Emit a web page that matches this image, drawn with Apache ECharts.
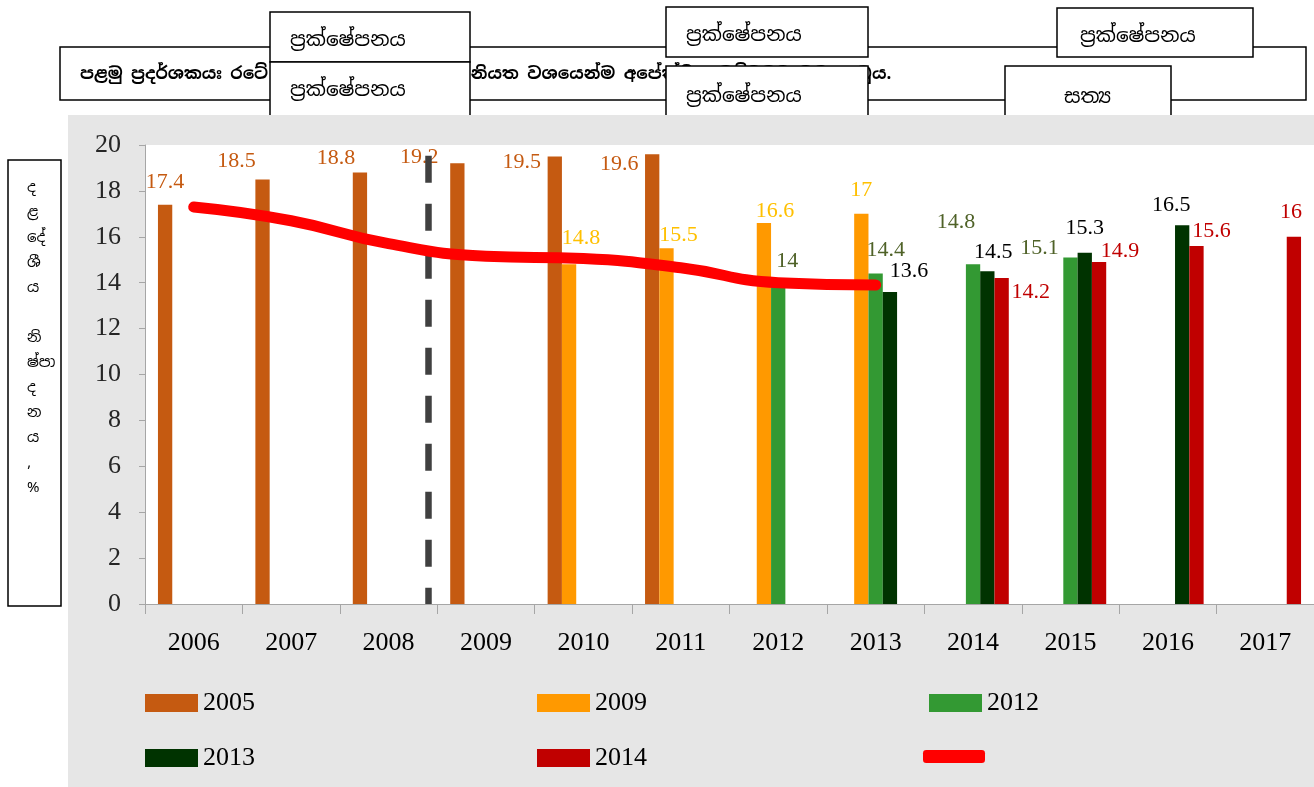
<!DOCTYPE html>
<html>
<head>
<meta charset="utf-8">
<script src="https://cdn.jsdelivr.net/npm/echarts@6/dist/echarts.min.js"></script>
<style>
  html, body { margin: 0; padding: 0; background: #fff; }
  #main { width: 1314px; height: 787px; }
</style>
</head>
<body>
<div id="main"></div>
<script>
var chart = echarts.init(document.getElementById('main'));

// categories and series values
const years = ['2006', '2007', '2008', '2009', '2010', '2011', '2012', '2013', '2014', '2015', '2016', '2017'];
const v2005 = [17.4, 18.5, 18.8, 19.2, 19.5, 19.6, null, null, null, null, null, null];
const v2009 = [null, null, null, null, 14.8, 15.5, 16.6, 17, null, null, null, null];
const v2012 = [null, null, null, null, null, null, 14, 14.4, 14.8, 15.1, null, null];
const v2013 = [null, null, null, null, null, null, null, 13.6, 14.5, 15.3, 16.5, null];
const v2014 = [null, null, null, null, null, null, null, null, 14.2, 14.9, 15.6, 16];
const trend = [17.3, 16.7, 15.7, 15.15, 15.05, 14.65, 14.0, 13.9, null, null, null, null];
const trendName = 'ප්‍රවණතාව';

// label nudges (dx, dy) like the hand-placed labels of the original
const nudge2005 = [[0, -6], [-26, -2], [-24, 2], [-38, 10], [-33, 22], [-33, 26]];
const nudge2009 = [null, null, null, null, [12, -10], [12, 3], [11, 4], [0, -8]];
const nudge2012 = [null, null, null, null, null, null, [9, -5], [10, -7], [-17, -26], [-31, 7]];
const nudge2013 = [null, null, null, null, null, null, null, [19, -5], [6, -3], [0, -9], [-11, -4]];
const nudge2014 = [null, null, null, null, null, null, null, null, [29, 30], [21, 5], [15, 1], [-3, -9]];

const numFont = "'Liberation Serif', 'DejaVu Serif', serif";
const siFont = "'Noto Sans Sinhala', 'Iskoola Pota', 'Noto Sans', sans-serif";

function barSeries(name, values, color, labelColor, nudge) {
    return {
        name: name,
        type: 'bar',
        barWidth: 14.3,
        barGap: '0%',
        itemStyle: { color: color },
        label: {
            show: true,
            position: 'top',
            color: labelColor,
            fontFamily: numFont,
            fontSize: 22
        },
        data: values.map(function (v, i) {
            if (v == null) return null;
            return { value: v, label: { offset: nudge[i] || [0, 0] } };
        }),
        z: 2
    };
}

// boxes drawn over the top of the figure
function box(x, y, w, h, text, tx, ty, z) {
    return [
        {
            type: 'rect', z: z,
            shape: { x: x, y: y, width: w, height: h },
            style: { fill: '#fff', stroke: '#000', lineWidth: 1.5 }
        },
        {
            type: 'text', z: z + 1, x: tx, y: ty,
            style: { text: text, font: '20px ' + siFont, fill: '#000', textVerticalAlign: 'middle' }
        }
    ];
}

const yNameLines = ['ද', 'ළ', 'දේ', 'ශී', 'ය', '', 'නි', 'ෂ්පා', 'ද', 'න', 'ය', ',', '%'];

var graphics = [
    // grey chart panel
    {
        type: 'rect', z: -100,
        shape: { x: 68, y: 115, width: 1250, height: 675 },
        style: { fill: '#E6E6E6' }
    },
    // title box
    {
        type: 'rect', z: -300,
        shape: { x: 60, y: 47, width: 1246, height: 53 },
        style: { fill: '#fff', stroke: '#000', lineWidth: 1.5 }
    },
    {
        type: 'text', z: -299, x: 80, y: 74,
        style: {
            text: 'පළමු ප්‍රදර්ශකයඃ රටේ දළ දේශීය නිෂ්පාදනය නියත වශයෙන්ම අපේක්ෂිත මට්ටමට වඩා අඩුය.',
            font: 'bold 17px ' + siFont, fill: '#000', textVerticalAlign: 'middle'
        }
    },
    // y axis name box
    {
        type: 'rect', z: 10,
        shape: { x: 8, y: 160, width: 53, height: 446 },
        style: { fill: '#fff', stroke: '#000', lineWidth: 1.5 }
    },
    {
        type: 'text', z: 11, x: 27, y: 175,
        style: {
            text: yNameLines.join('\n'),
            font: '15px ' + siFont, lineHeight: 25, fill: '#000'
        }
    }
]
    .concat(box(270, 12, 200, 50, 'ප්‍රක්ෂේපනය', 290, 40, -200))
    .concat(box(270, 62, 200, 60, 'ප්‍රක්ෂේපනය', 290, 90, -200))
    .concat(box(666, 7, 202, 50, 'ප්‍රක්ෂේපනය', 686, 35, -200))
    .concat(box(666, 66, 202, 60, 'ප්‍රක්ෂේපනය', 686, 96, -200))
    .concat(box(1057, 8, 196, 49, 'ප්‍රක්ෂේපනය', 1080, 36, -200))
    .concat(box(1005, 66, 166, 60, 'සත්‍ය', 1064, 97, -200));

var legendBase = {
    orient: 'horizontal',
    icon: 'rect',
    padding: 0,
    itemWidth: 53,
    itemHeight: 18,
    itemGap: 282,
    textStyle: { color: '#000', fontFamily: numFont, fontSize: 26 }
};

var option = {
    backgroundColor: '#fff',
    animation: false,
    graphic: { elements: graphics },
    grid: {
        left: 145,
        right: -1,
        top: 145,
        bottom: 183,
        containLabel: false,
        show: true,
        backgroundColor: '#fff',
        borderWidth: 0
    },
    legend: [
        Object.assign({}, legendBase, { left: 145, top: 690, data: ['2005', '2009', '2012'] }),
        Object.assign({}, legendBase, { left: 145, top: 745, data: ['2013', '2014'] }),
        {
            left: 923, top: 750,
            padding: 0,
            icon: 'roundRect',
            itemWidth: 62, itemHeight: 13,
            data: [trendName],
            formatter: function () { return ''; },
            textStyle: { fontSize: 26 }
        }
    ],
    xAxis: [
        {
            type: 'category',
            data: years,
            axisLine: { lineStyle: { color: '#A6A6A6' } },
            axisTick: { show: true, length: 10, lineStyle: { color: '#A6A6A6' } },
            axisLabel: { color: '#000', fontFamily: numFont, fontSize: 26, margin: 26 }
        },
        {
            type: 'value',
            show: false,
            min: 0,
            max: 12
        }
    ],
    yAxis: {
        type: 'value',
        min: 0,
        max: 20,
        interval: 2,
        axisLine: { show: true, lineStyle: { color: '#A6A6A6' } },
        axisTick: { show: true, length: 6, lineStyle: { color: '#A6A6A6' } },
        splitLine: { show: false },
        axisLabel: { color: '#262626', fontFamily: numFont, fontSize: 26, margin: 24 }
    },
    series: [
        barSeries('2005', v2005, '#C55A11', '#C55A11', nudge2005),
        barSeries('2009', v2009, '#FF9900', '#FFC000', nudge2009),
        barSeries('2012', v2012, '#339933', '#4F6228', nudge2012),
        barSeries('2013', v2013, '#003300', '#000000', nudge2013),
        barSeries('2014', v2014, '#C00000', '#C00000', nudge2014),
        {
            name: trendName,
            type: 'line',
            smooth: true,
            symbol: 'none',
            data: trend,
            itemStyle: { color: '#FF0000' },
            lineStyle: { color: '#FF0000', width: 11, cap: 'round', join: 'round' },
            z: 5
        },
        {
            // dashed divider between history and projections
            name: 'divider',
            type: 'line',
            xAxisIndex: 1,
            data: [],
            z: 10,
            markLine: {
                silent: true,
                symbol: 'none',
                label: { show: false },
                lineStyle: { color: '#404040', width: 6.5, type: [27, 21], cap: 'butt' },
                data: [[{ coord: [2.91, 19.53] }, { coord: [2.91, 0] }]]
            }
        }
    ]
};

chart.setOption(option);

window.addEventListener('resize', function () {
    chart.resize();
});
</script>
</body>
</html>
